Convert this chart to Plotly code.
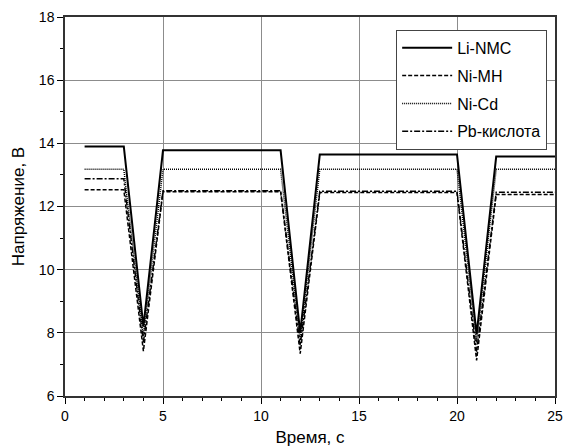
import plotly.graph_objects as go

# Data
time_s = [1, 3, 4, 5, 11, 12, 13, 20, 21, 22, 25]
li_nmc = [13.9, 13.9, 8.2, 13.78, 13.78, 8.0, 13.65, 13.65, 7.95, 13.58, 13.58]
ni_mh = [12.53, 12.53, 7.42, 12.47, 12.47, 7.34, 12.44, 12.44, 7.13, 12.38, 12.38]
ni_cd = [13.18, 13.18, 7.9, 13.18, 13.18, 7.8, 13.18, 13.18, 7.7, 13.18, 13.18]
pb_acid = [12.88, 12.88, 7.7, 12.5, 12.5, 7.6, 12.48, 12.48, 7.4, 12.45, 12.45]

series = [
    ("Li-NMC", li_nmc, "solid", 2),
    ("Ni-MH", ni_mh, "4px,2px", 1.5),
    ("Ni-Cd", ni_cd, "1px,1px", 1.5),
    ("Pb-кислота", pb_acid, "6px,2px,2px,2px", 1.5),
]

fig = go.Figure()
for i, (name, vals, dash, w) in enumerate(series):
    fig.add_trace(go.Scatter(x=time_s, y=vals, mode="lines", name=name,
                             legendgroup=f"g{i}",
                             line=dict(color="black", width=w, dash=dash)))

font = "Liberation Sans"
axis_common = dict(
    showline=True, mirror=True, linecolor="#333333", linewidth=1.5,
    ticks="outside", ticklen=6, tickwidth=1, tickcolor="black",
    showgrid=True, gridcolor="#8c8c8c", gridwidth=1, zeroline=False,
    automargin=False,
    tickfont=dict(family=font, size=14, color="black"),
)
fig.update_xaxes(range=[0, 25], dtick=5, tick0=0,
                 minor=dict(dtick=1, ticks="outside", ticklen=3, tickcolor="black", showgrid=False),
                 title=dict(text="Время, с", font=dict(family=font, size=17, color="black"), standoff=10),
                 **axis_common)
fig.update_yaxes(range=[6, 18], dtick=2, tick0=6,
                 minor=dict(dtick=1, ticks="outside", ticklen=3, tickcolor="black", showgrid=False),
                 title=dict(text="Напряжение, В", font=dict(family=font, size=17, color="black"), standoff=10),
                 **axis_common)

fig.update_layout(
    width=565, height=447,
    margin=dict(l=65, r=10, t=17, b=51),
    plot_bgcolor="white", paper_bgcolor="white",
    font=dict(family=font, size=14, color="black"),
    legend=dict(x=0.984, y=0.966, xanchor="right", yanchor="top",
                bgcolor="white", bordercolor="#444444", borderwidth=1,
                font=dict(family=font, size=16, color="black"),
                itemwidth=50, tracegroupgap=4),
    showlegend=True,
)

fig.write_html("out.html",
               config={"displayModeBar": False},
               post_script="document.body.style.margin='0';document.body.style.overflow='hidden';")
